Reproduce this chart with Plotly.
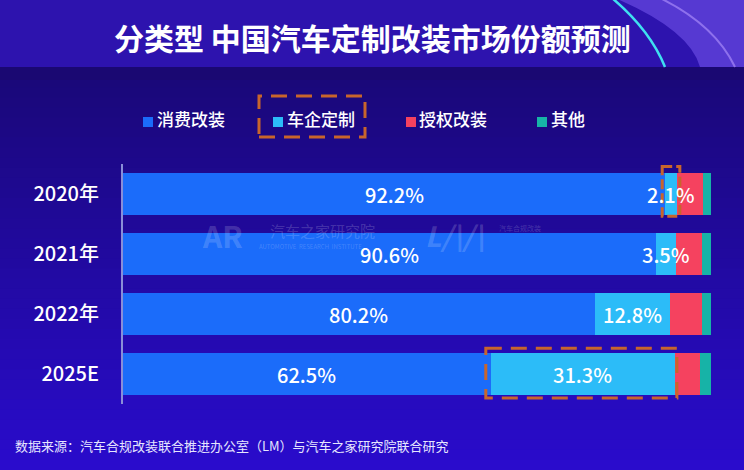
import plotly.graph_objects as go

# ---------------- data ----------------
years = ["2020年", "2021年", "2022年", "2025E"]
series_names = ["消费改装", "车企定制", "授权改装", "其他"]
consumer = [92.2, 90.6, 80.2, 62.5]
oem = [2.1, 3.5, 12.8, 31.3]
licensed = [4.3, 4.4, 5.4, 4.3]
other = [1.4, 1.5, 1.6, 1.9]
values = [consumer, oem, licensed, other]
colors = ["#1b6cfa", "#2cbcf8", "#f5425f", "#17b3a7"]

W, H = 744, 470
L, R, T, B = 123, 33, 164, 66
PW, PH = W - L - R, H - T - B


def px(x):
    return (x - L) / PW


def py(y):
    return (H - B - y) / PH


FONT = "Noto Sans CJK SC"
fig = go.Figure()

for name, vals, col in zip(series_names, values, colors):
    fig.add_trace(go.Bar(
        y=years, x=vals, name=name, orientation="h",
        marker=dict(color=col, line=dict(width=0)),
        hoverinfo="x+name", showlegend=False,
    ))

shapes = []
# background gradient (main area)
n = 40
c0 = (26, 8, 120)
c1 = (42, 12, 204)
y_start = 67
for i in range(n):
    t = i / (n - 1)
    c = tuple(int(c0[k] + (c1[k] - c0[k]) * t) for k in range(3))
    ya = y_start + (H - y_start) * i / n
    yb = y_start + (H - y_start) * (i + 1) / n + 1
    shapes.append(dict(type="rect", xref="paper", yref="paper", layer="below",
                       x0=px(-2), x1=px(W + 2), y0=py(yb), y1=py(ya),
                       fillcolor="rgb(%d,%d,%d)" % c, line=dict(width=0)))
# title band
shapes.append(dict(type="rect", xref="paper", yref="paper", layer="below",
                   x0=px(-2), x1=px(W + 2), y0=py(67), y1=py(-2),
                   fillcolor="#2d13ae", line=dict(width=0)))
shapes.append(dict(type="rect", xref="paper", yref="paper", layer="below",
                   x0=px(-2), x1=px(W + 2), y0=py(80), y1=py(67),
                   fillcolor="#1a0872", line=dict(width=0)))
# decoration on right of title band
shapes.append(dict(type="path", xref="paper", yref="paper", layer="below",
                   path="M %f %f Q %f %f %f %f L %f %f L %f %f Z" % (
                       px(615), py(-2), px(690), py(30), px(700), py(67),
                       px(W + 2), py(67), px(W + 2), py(-2)),
                   fillcolor="rgba(120,90,240,0.55)", line=dict(width=0)))
shapes.append(dict(type="path", xref="paper", yref="paper", layer="below",
                   path="M %f %f Q %f %f %f %f" % (
                       px(612), py(-2), px(650), py(30), px(665), py(67)),
                   line=dict(color="#3fe0f0", width=2.5)))
shapes.append(dict(type="path", xref="paper", yref="paper", layer="below",
                   path="M %f %f Q %f %f %f %f" % (
                       px(660), py(-2), px(715), py(25), px(735), py(67)),
                   line=dict(color="rgba(180,150,255,0.6)", width=2)))

# legend squares
leg_sq = [143, 273, 406, 537]
leg_tx = [155, 285, 417, 549]
for x0, col in zip(leg_sq, colors):
    shapes.append(dict(type="rect", xref="paper", yref="paper",
                       x0=px(x0), x1=px(x0 + 10), y0=py(127), y1=py(117),
                       fillcolor=col, line=dict(width=0)))
# dashed highlight boxes
dash_style = dict(color="#c8652c", width=3, dash="16px,9px")
shapes.append(dict(type="rect", xref="paper", yref="paper",
                   x0=px(259), x1=px(365), y0=py(137), y1=py(96),
                   line=dash_style))
shapes.append(dict(type="rect", xref="x", yref="y",
                   x0=consumer[0] - 0.5, x1=consumer[0] + oem[0] + 0.4,
                   y0=0 - 0.46, y1=0 + 0.37,
                   line=dict(color="#c8652c", width=3, dash="10px,4px")))
shapes.append(dict(type="rect", xref="x", yref="y",
                   x0=consumer[3] - 0.8, x1=consumer[3] + oem[3] + 0.4,
                   y0=3 - 0.43, y1=3 + 0.40, line=dash_style))

annotations = []
# title
annotations.append(dict(xref="paper", yref="paper", x=px(372), y=py(37),
                        text="<b>分类型 中国汽车定制改装市场份额预测</b>",
                        showarrow=False, font=dict(family=FONT, size=30, color="white"),
                        xanchor="center", yanchor="middle"))
# legend text
for x0, name in zip(leg_tx, series_names):
    annotations.append(dict(xref="paper", yref="paper", x=px(x0), y=py(118),
                            text=name, showarrow=False, xanchor="left", yanchor="middle",
                            font=dict(family=FONT, size=17, color="white", weight=500)))
# watermark
wm = [
    (222, 235, "<b>AR</b>", 30),
    (322, 230, "汽车之家研究院", 15),
    (310, 246, "AUTOMOTIVE  RESEARCH  INSTITUTE", 6),
    (455, 235, "<b><i>L/\\/\\</i></b>", 28),
    (520, 228, "汽车合规改装", 7),
]
for x, y, txt, s in wm:
    annotations.append(dict(xref="paper", yref="paper", x=px(x), y=py(y), text=txt,
                            showarrow=False, xanchor="center", yanchor="middle",
                            font=dict(family=FONT, size=s, color="rgba(255,255,255,0.18)")))
# data labels
lab_font = dict(family=FONT, size=20, color="white", weight=500)
for i, y in enumerate(years):
    annotations.append(dict(x=consumer[i] / 2, y=y, xref="x", yref="y",
                            text="%.1f%%" % consumer[i], showarrow=False, font=lab_font))
    annotations.append(dict(x=consumer[i] + oem[i] / 2, y=y, xref="x", yref="y",
                            text="%.1f%%" % oem[i], showarrow=False, font=lab_font))
# footnote
annotations.append(dict(xref="paper", yref="paper", x=px(13), y=py(445),
                        text="数据来源：汽车合规改装联合推进办公室（LM）与汽车之家研究院联合研究",
                        showarrow=False, xanchor="left", yanchor="middle",
                        font=dict(family=FONT, size=13, color="#e6e6ff")))

fig.update_layout(
    width=W, height=H,
    margin=dict(l=L, r=R, t=T, b=B, pad=0),
    barmode="stack", bargap=0.3,
    paper_bgcolor="#220a9a", plot_bgcolor="rgba(0,0,0,0)",
    shapes=shapes, annotations=annotations,
    xaxis=dict(range=[0, 100], visible=False, fixedrange=True),
    yaxis=dict(autorange=False, range=[3.5, -0.5], showgrid=False, zeroline=False,
               showline=True, linecolor="#8a8ed8", linewidth=2,
               ticks="", ticklabelstandoff=18, fixedrange=True,
               tickfont=dict(family=FONT, size=20, color="white", weight=500)),
    font=dict(family=FONT),
)
fig.update_yaxes(type="category")

fig.write_html(
    "out.html",
    config={"displayModeBar": False},
    post_script="document.body.style.margin='0';document.body.style.padding='0';"
                "document.body.style.overflow='hidden';document.body.style.background='#220a9a';",
)
